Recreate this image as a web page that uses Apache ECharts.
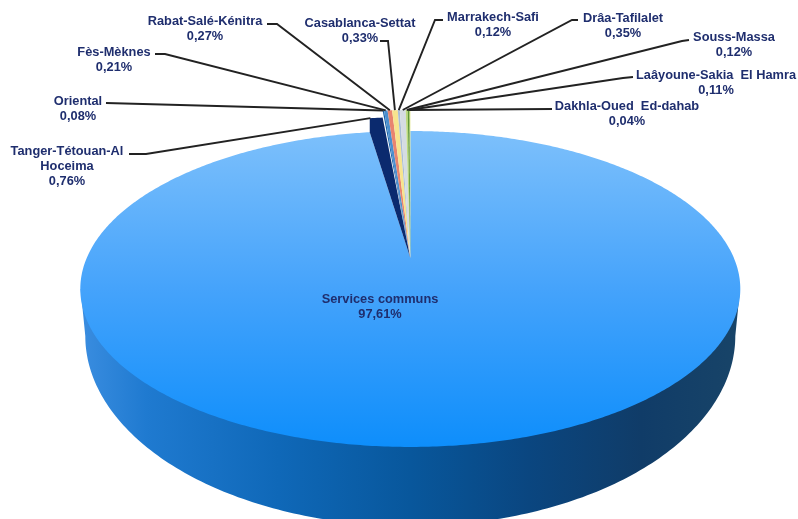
<!DOCTYPE html>
<html><head><meta charset="utf-8">
<style>html,body{margin:0;padding:0;background:#fff}#c{width:798px;height:519px}</style>
<script src="https://cdn.jsdelivr.net/npm/echarts@6/dist/echarts.min.js"></script>
</head><body><div id="c"></div>
<script>
const regionNames = ['Services communs','Tanger-Tétouan-Al\nHoceima','Oriental','Fès-Mèknes','Rabat-Salé-Kénitra','Casablanca-Settat','Marrakech-Safi','Drâa-Tafilalet','Souss-Massa','Laâyoune-Sakia  El Hamra','Dakhla-Oued  Ed-dahab'];
const regionValues = [97.61,0.76,0.08,0.21,0.27,0.33,0.12,0.35,0.12,0.11,0.04];
const regionColors = [null,'#0b2a6e','#1b62a8','#4a8fcf','#e8846f','#f6e48e','#a9bdd6','#d5dce2','#bcd97e','#5d9636','#dbe37a'];
// layout of the drawing (not data)
const sliceLift = [0,14,21,21,21,21,21,21,21,21,21];
const labelAnchors = [[380,299],[67,151],[78,101],[114,52],[205,21],[360,23],[493,17],[623,18],[734,37],[716,75],[627,106]];
const leaderStarts = [null,[129,154],[106,103],[155,54],[267,24],[380,41],[443,20],[578,20],[689,40],[633,77],[552,109]];
const leaderElbows = [null,[146,154],null,[165,54],[277,24],[388,41],[435,20],[572,20],[682,41],[623,78],null];
const leaderTipShare = [0.5,0.05,0.5,0.5,0.5,0.5,0.5,0.5,0.5,0.5,0.5];

const apex = {x:410.3,y:258}, persp = 0.196, scaleX = 323.6, scaleY = 151.9;
function project(theta){ // theta clockwise from 12 o'clock on the real (round) pie
  const u=Math.sin(theta), v=Math.cos(theta), w=1+persp*v;
  return [apex.x+scaleX*u/w, apex.y-scaleY*v/w];
}
const total = regionValues.reduce((a,b)=>a+b,0);
const starts = []; regionValues.reduce((acc,v,i)=>{starts[i]=acc;return acc+v;},0);
const toAngle = v => v/total*Math.PI*2;
const textColor = '#1f2e6e';
const font = 'bold 12.8px "Liberation Sans", Arial, sans-serif';

function renderWall(){
  const c={x:apex.x,y:336,a:325,b:190}, pts=[[apex.x-329.7,289]];
  for(let i=0;i<=180;i++){const t=Math.PI-i/180*Math.PI;pts.push([c.x+c.a*Math.cos(t),c.y+c.b*Math.sin(t)]);}
  pts.push([apex.x+329.7,289]);
  return {type:'polygon',shape:{points:pts},style:{fill:{type:'linear',x:0,y:0,x2:1,y2:0,colorStops:[
    {offset:0,color:'#3a8de0'},{offset:.1,color:'#1f7ad0'},{offset:.3,color:'#0f68b8'},{offset:.5,color:'#08579c'},
    {offset:.68,color:'#0a4680'},{offset:.85,color:'#103c68'},{offset:1,color:'#184468'}]}}};
}
function renderSlice(params,api){
  const i=params.dataIndex, a0=toAngle(starts[i]), a1=toAngle(starts[i]+api.value(0));
  const n=Math.max(2,Math.ceil((a1-a0)/0.01)), pts=[[apex.x,apex.y]], lift=sliceLift[i];
  if(lift===14) pts.push(project(a0)); // visible side of the pulled-out dark slice
  for(let k=0;k<=n;k++){const p=project(a0+(a1-a0)*k/n);pts.push([p[0],p[1]-lift]);}
  const children=[];
  const fill = i===0 ? {type:'linear',x:0,y:0,x2:0,y2:1,colorStops:[
    {offset:0,color:'#7dc0fb'},{offset:.5,color:'#45a3fb'},{offset:1,color:'#0e8efb'}]} : regionColors[i];
  children.push({type:'polygon',shape:{points:pts},style:{fill}});
  if(i>0){
    const mid=project(a0+(a1-a0)*leaderTipShare[i]), tip=[mid[0],mid[1]-lift];
    const line=[leaderStarts[i]]; if(leaderElbows[i]) line.push(leaderElbows[i]); line.push(tip);
    children.push({type:'polyline',z2:5,shape:{points:line},style:{fill:null,stroke:'#222',lineWidth:1.9}});
  }
  const lab=labelAnchors[i];
  const lines=(api.value(1)+'\n'+regionValues[i].toFixed(2).replace('.',',')+'%').split('\n');
  lines.forEach((s,k)=>children.push({type:'text',z2:6,style:{text:s,x:lab[0],y:lab[1]+k*15,align:'center',verticalAlign:'middle',
    font,fill:textColor,shadowBlur:1.5,shadowColor:'rgba(31,46,110,.55)'}}));
  return {type:'group',children};
}
const chart=echarts.init(document.getElementById('c'),null,{renderer:'canvas'});
chart.setOption({
  animation:false,backgroundColor:'#fff',
  series:[
    {type:'custom',coordinateSystem:'none',silent:true,data:[1],renderItem:renderWall,z:1},
    {type:'custom',coordinateSystem:'none',silent:true,z:2,
     dimensions:['value','label'],
     data:regionNames.map((n,i)=>[regionValues[i],n]),
     encode:{value:0},renderItem:renderSlice}
  ]
});
</script></body></html>
